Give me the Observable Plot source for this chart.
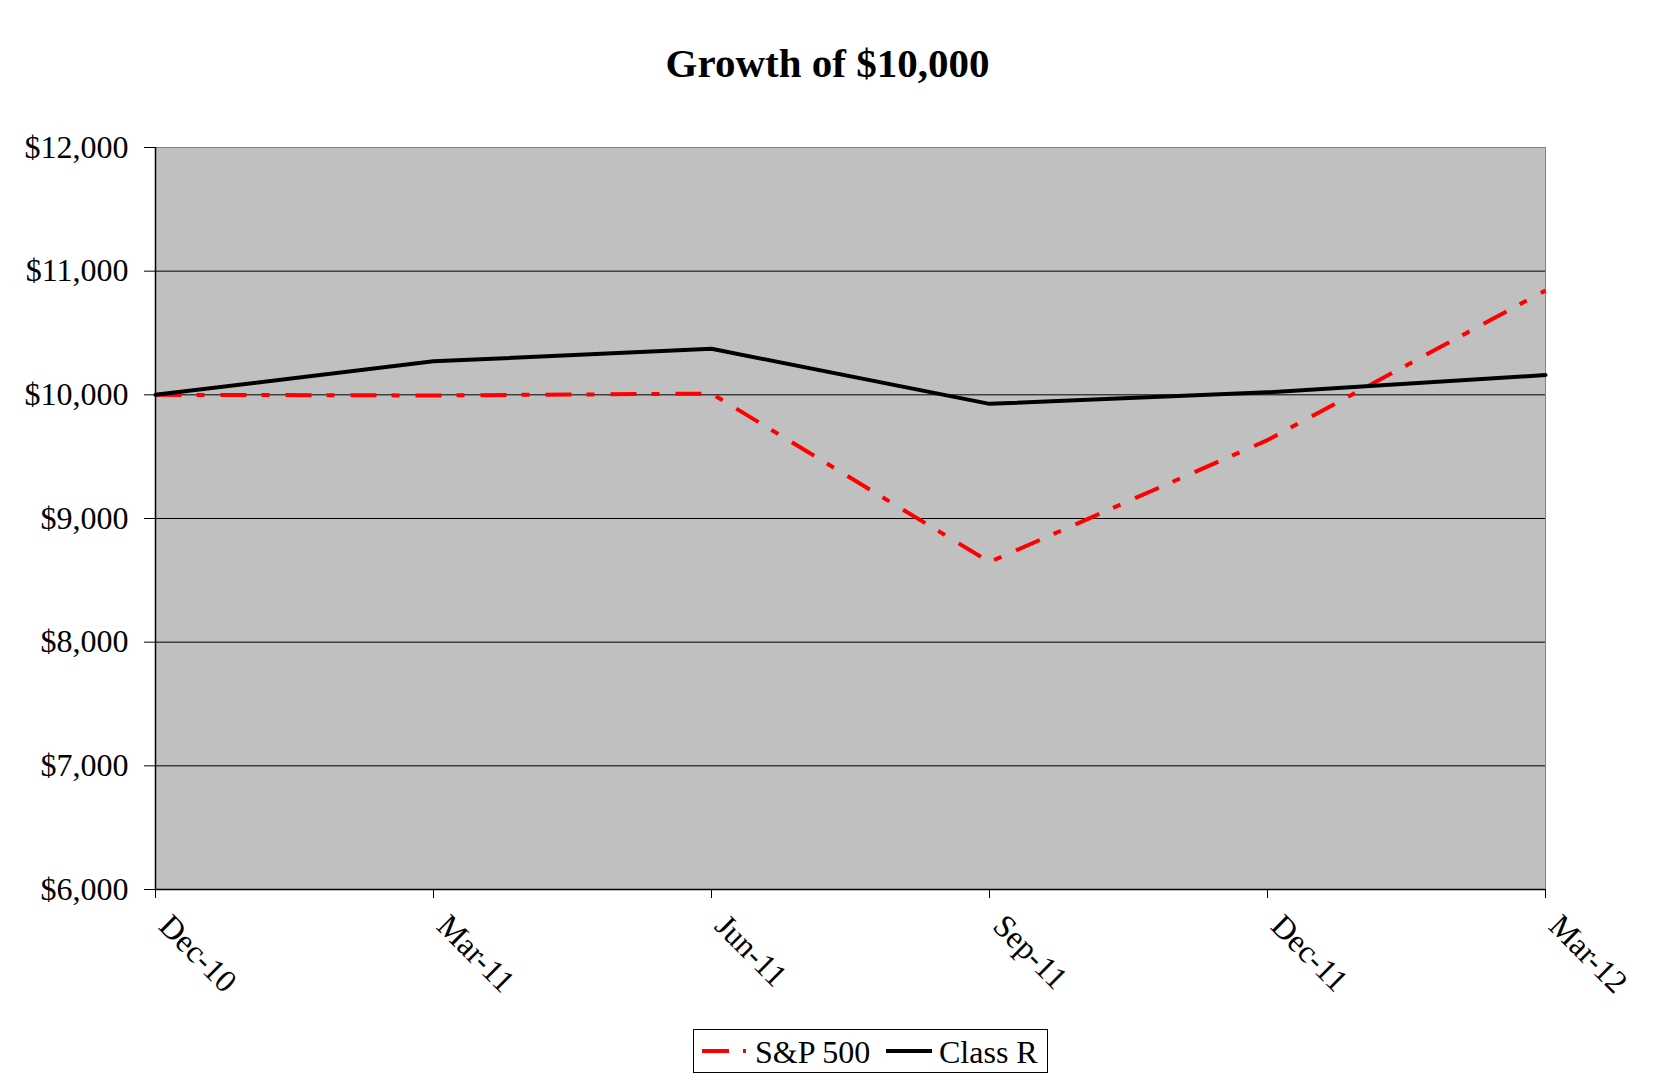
<!DOCTYPE html>
<html>
<head>
<meta charset="utf-8">
<script src="https://cdn.jsdelivr.net/npm/d3@7"></script>
<script src="https://cdn.jsdelivr.net/npm/@observablehq/plot@0.6"></script>
<style>
  html, body { margin: 0; padding: 0; background: white; }
  body { width: 1655px; height: 1087px; position: relative; overflow: hidden; font-family: "Liberation Serif", "Times New Roman", serif; }
  #title { position: absolute; left: 0; top: 43px; width: 1655px; text-align: center; font-weight: bold; font-size: 41px; line-height: 41px; color: black; }
  #chart { position: absolute; left: 0; top: 0; }
  #legend { position: absolute; left: 693px; top: 1029px; width: 355px; height: 44px; box-sizing: border-box; border: 1px solid black; background: white; }
  #legend span { position: absolute; top: 6px; font-size: 32px; line-height: 32px; white-space: nowrap; color: black; }
  #legend svg { position: absolute; top: 0; }
</style>
</head>
<body>
<div id="chart"></div>
<div id="title">Growth of $10,000</div>
<div id="legend"></div>
<script>
const quarters = ["Dec-10", "Mar-11", "Jun-11", "Sep-11", "Dec-11", "Mar-12"];
const sp500 = [10000, 9995, 10010, 8648, 9634, 10844];
const classR = [10000, 10271, 10372, 9927, 10020, 10160];
const yTicks = [6000, 7000, 8000, 9000, 10000, 11000, 12000];
const seriesNames = ["S&P 500", "Class R"];

const spData = quarters.map((q, i) => ({quarter: q, value: sp500[i]}));
const crData = quarters.map((q, i) => ({quarter: q, value: classR[i]}));
const money = d => "$" + d3.format(",")(d);

const chart = Plot.plot({
  width: 1655,
  height: 1087,
  marginTop: 147,
  marginBottom: 198,
  marginLeft: 155,
  marginRight: 110,
  style: {fontFamily: "'Liberation Serif','Times New Roman',serif", fontSize: "32px", color: "black", background: "white"},
  x: {type: "point", domain: quarters, padding: 0},
  y: {domain: [6000, 12000]},
  marks: [
    Plot.frame({fill: "#c0c0c0", stroke: "#808080"}),
    Plot.gridY(yTicks.slice(1, -1), {stroke: "black", strokeOpacity: 1, strokeWidth: 1}),
    Plot.ruleY([yTicks[0]], {stroke: "black", strokeWidth: 1.5}),
    Plot.ruleX([quarters[0]], {stroke: "black", strokeWidth: 1.5}),
    Plot.axisY({ticks: yTicks, tickFormat: money, tickSize: 11, tickPadding: 16, fontSize: 32, label: null}),
    Plot.axisX({tickSize: 9, tickFormat: () => "", label: null}),
    Plot.axisX({tickSize: 0, tickRotate: 45, tickPadding: 31, dx: 9, fontSize: 32, label: null}),
    Plot.lineY(spData, {x: "quarter", y: "value", stroke: "#ff0000", strokeWidth: 4, strokeDasharray: "26,15,8,16", strokeLinecap: "butt"}),
    Plot.lineY(crData, {x: "quarter", y: "value", stroke: "black", strokeWidth: 4})
  ]
});
document.getElementById("chart").appendChild(chart);

const legend = document.getElementById("legend");
legend.innerHTML = `
  <svg width="50" height="42" style="left:8px"><line x1="0" x2="50" y1="21" y2="21" stroke="#ff0000" stroke-width="4" stroke-dasharray="27,14,3,100"/></svg>
  <span style="left:61px">${seriesNames[0]}</span>
  <svg width="46" height="42" style="left:192px"><line x1="0" x2="46" y1="21" y2="21" stroke="black" stroke-width="4"/></svg>
  <span style="left:245px">${seriesNames[1]}</span>
`;
</script>
</body>
</html>
